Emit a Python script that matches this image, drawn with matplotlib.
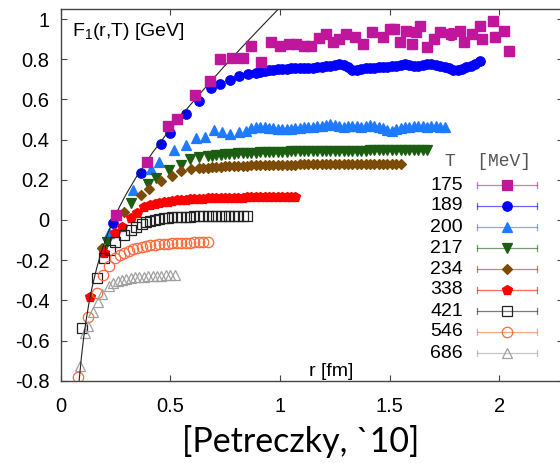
import matplotlib
matplotlib.use("Agg")
import matplotlib.pyplot as plt

plt.rcParams['font.family'] = ['Liberation Sans', 'DejaVu Sans']
plt.rcParams['mathtext.default'] = 'regular'

# ---------- data ----------
temps = ['175', '189', '200', '217', '234', '338', '421', '546', '686']

r_175 = [0.255, 0.392, 0.49, 0.533, 0.615, 0.68, 0.726, 0.78, 0.83, 0.87,
         0.915, 0.96, 1.0, 1.04, 1.075, 1.11, 1.14, 1.18, 1.21, 1.24,
         1.27, 1.30, 1.34, 1.38, 1.42, 1.47, 1.50, 1.52, 1.545, 1.575,
         1.60, 1.62, 1.64, 1.67, 1.70, 1.73, 1.78, 1.82, 1.84, 1.875,
         1.91, 1.92, 1.97, 1.98, 2.02, 2.045]
F_175 = [0.025, 0.29, 0.467, 0.503, 0.62, 0.69, 0.80, 0.805, 0.805, 0.865,
         0.785, 0.885, 0.865, 0.875, 0.875, 0.865, 0.865, 0.905, 0.925, 0.885,
         0.90, 0.925, 0.91, 0.875, 0.935, 0.91, 0.95, 0.95, 0.885, 0.94,
         0.875, 0.935, 0.965, 0.86, 0.90, 0.935, 0.925, 0.94, 0.885, 0.925,
         0.965, 0.90, 0.99, 0.91, 0.94, 0.84]
e_175 = [0.005, 0.005, 0.005, 0.005, 0.005, 0.005, 0.008, 0.008, 0.01, 0.025,
         0.015, 0.012, 0.015, 0.012, 0.012, 0.01, 0.015, 0.012, 0.02, 0.02,
         0.015, 0.02, 0.02, 0.015, 0.025, 0.02, 0.02, 0.02, 0.02, 0.015,
         0.02, 0.02, 0.02, 0.02, 0.025, 0.02, 0.03, 0.02, 0.02, 0.02,
         0.02, 0.02, 0.02, 0.025, 0.02, 0.025]

r_189 = [0.24, 0.367, 0.457, 0.498, 0.571, 0.632, 0.685, 0.729, 0.773, 0.814,
         0.855, 0.89,
         0.91, 0.93, 0.95, 0.97, 0.99, 1.01, 1.03, 1.05, 1.07, 1.09,
         1.11, 1.13, 1.15, 1.17, 1.19, 1.21, 1.23, 1.25, 1.27, 1.29,
         1.31, 1.33, 1.35, 1.37, 1.39, 1.41, 1.43, 1.45, 1.47, 1.49,
         1.51, 1.53, 1.55, 1.57, 1.59, 1.61, 1.63, 1.65, 1.67, 1.69,
         1.71, 1.73, 1.75, 1.77, 1.79, 1.81, 1.83, 1.85, 1.87, 1.89,
         1.91]
F_189 = [-0.015, 0.233, 0.378, 0.433, 0.525, 0.592, 0.658, 0.678, 0.695, 0.717,
         0.725, 0.73,
         0.735, 0.74, 0.745, 0.748, 0.75, 0.752, 0.753, 0.755, 0.755, 0.756,
         0.755, 0.757, 0.758, 0.76, 0.762, 0.765, 0.768, 0.772, 0.775, 0.77,
         0.76, 0.745, 0.748, 0.752, 0.755, 0.757, 0.758, 0.76, 0.76, 0.762,
         0.765, 0.768, 0.772, 0.775, 0.772, 0.768, 0.765, 0.77, 0.774, 0.776,
         0.772, 0.768, 0.762, 0.755, 0.748, 0.745, 0.75, 0.762, 0.768, 0.775,
         0.79]

r_200 = [0.22, 0.332, 0.412, 0.45, 0.518, 0.574, 0.616, 0.66, 0.698, 0.736,
         0.774, 0.812, 0.844,
         0.87, 0.89, 0.91, 0.93, 0.95, 0.97, 0.99, 1.01, 1.03, 1.05,
         1.07, 1.09, 1.11, 1.13, 1.15, 1.17, 1.19, 1.21, 1.23, 1.25,
         1.27, 1.29, 1.31, 1.33, 1.35, 1.37, 1.39, 1.41, 1.43, 1.45,
         1.47, 1.49, 1.51, 1.53, 1.55, 1.57, 1.59, 1.61, 1.63, 1.65,
         1.67, 1.69, 1.71, 1.73, 1.75]
F_200 = [-0.067, 0.15, 0.253, 0.29, 0.347, 0.375, 0.408, 0.413, 0.447, 0.438,
         0.43, 0.44, 0.445,
         0.46, 0.462, 0.465, 0.462, 0.46, 0.457, 0.455, 0.452, 0.452, 0.455,
         0.458, 0.46, 0.462, 0.465, 0.465, 0.468, 0.47, 0.475, 0.48, 0.475,
         0.47, 0.465, 0.468, 0.47, 0.468, 0.465, 0.47, 0.472, 0.468, 0.465,
         0.46, 0.45, 0.445, 0.452, 0.458, 0.462, 0.465, 0.468, 0.47, 0.468,
         0.465, 0.47, 0.468, 0.465, 0.465]

r_217 = [0.21, 0.32, 0.397, 0.435, 0.495, 0.548, 0.589, 0.63, 0.67,
         0.69, 0.71, 0.73, 0.75, 0.77, 0.79, 0.81, 0.83, 0.85, 0.87,
         0.89, 0.91, 0.93, 0.95, 0.97, 0.99, 1.01, 1.03, 1.05, 1.07,
         1.09, 1.11, 1.13, 1.15, 1.17, 1.19, 1.21, 1.23, 1.25, 1.27,
         1.29, 1.31, 1.33, 1.35, 1.37, 1.39, 1.41, 1.43, 1.45, 1.47,
         1.49, 1.51, 1.53, 1.55, 1.57, 1.59, 1.61, 1.63, 1.65, 1.67]
F_217 = [-0.11, 0.085, 0.178, 0.208, 0.25, 0.275, 0.303, 0.312, 0.317,
         0.320, 0.322, 0.324, 0.326, 0.328, 0.330, 0.331, 0.332, 0.333, 0.334,
         0.335, 0.336, 0.337, 0.338, 0.339, 0.339, 0.340, 0.340, 0.341, 0.341,
         0.342, 0.342, 0.342, 0.343, 0.343, 0.343, 0.344, 0.344, 0.344, 0.344,
         0.345, 0.345, 0.345, 0.345, 0.345, 0.345, 0.346, 0.346, 0.346, 0.346,
         0.346, 0.346, 0.346, 0.346, 0.347, 0.347, 0.347, 0.347, 0.347, 0.347]

r_234 = [0.19, 0.29, 0.367, 0.403, 0.457, 0.509, 0.551, 0.594,
         0.63, 0.65, 0.67, 0.69, 0.71, 0.73, 0.75, 0.77, 0.79, 0.81,
         0.83, 0.85, 0.87, 0.89, 0.91, 0.93, 0.95, 0.97, 0.99, 1.01,
         1.03, 1.05, 1.07, 1.09, 1.11, 1.13, 1.15, 1.17, 1.19, 1.21,
         1.23, 1.25, 1.27, 1.29, 1.31, 1.33, 1.35, 1.37, 1.39, 1.41,
         1.43, 1.45, 1.47, 1.49, 1.51, 1.53, 1.55]
F_234 = [-0.14, 0.04, 0.125, 0.153, 0.192, 0.217, 0.242, 0.253,
         0.257, 0.259, 0.261, 0.263, 0.264, 0.266, 0.267, 0.268, 0.269, 0.270,
         0.271, 0.271, 0.272, 0.273, 0.273, 0.274, 0.274, 0.275, 0.275, 0.275,
         0.276, 0.276, 0.276, 0.277, 0.277, 0.277, 0.277, 0.278, 0.278, 0.278,
         0.278, 0.278, 0.279, 0.279, 0.279, 0.279, 0.279, 0.279, 0.280, 0.280,
         0.280, 0.280, 0.280, 0.280, 0.280, 0.280, 0.280]

r_338 = [0.135, 0.20, 0.25, 0.28, 0.32, 0.35, 0.38, 0.41, 0.43, 0.45,
         0.47, 0.49, 0.51, 0.53, 0.55, 0.57, 0.59, 0.61, 0.63, 0.65,
         0.67, 0.69, 0.71, 0.73, 0.75, 0.77, 0.79, 0.81, 0.83, 0.85,
         0.87, 0.89, 0.91, 0.93, 0.95, 0.97, 0.99, 1.01, 1.03, 1.05,
         1.07]
F_338 = [-0.385, -0.165, -0.065, -0.035, 0.01, 0.035, 0.065, 0.072, 0.078, 0.083,
         0.087, 0.091, 0.094, 0.097, 0.099, 0.101, 0.103, 0.104, 0.105, 0.106,
         0.107, 0.107, 0.108, 0.109, 0.109, 0.110, 0.110, 0.111, 0.111, 0.112,
         0.112, 0.112, 0.113, 0.113, 0.113, 0.114, 0.114, 0.114, 0.115, 0.115,
         0.115]

r_421 = [0.10, 0.165, 0.20, 0.225, 0.25, 0.29, 0.32, 0.345, 0.37, 0.39,
         0.41, 0.43, 0.45, 0.47, 0.49, 0.51, 0.53, 0.55, 0.57, 0.59,
         0.61, 0.63, 0.65, 0.67, 0.69, 0.71, 0.73, 0.75, 0.77, 0.79,
         0.81, 0.83, 0.85]
F_421 = [-0.54, -0.29, -0.19, -0.15, -0.11, -0.075, -0.05, -0.035, -0.02, -0.01,
         -0.003, 0.002, 0.006, 0.009, 0.011, 0.013, 0.014, 0.015, 0.016, 0.017,
         0.018, 0.018, 0.019, 0.019, 0.020, 0.020, 0.020, 0.021, 0.021, 0.021,
         0.021, 0.022, 0.022]

r_546 = [0.078, 0.125, 0.165, 0.195, 0.22, 0.25, 0.27, 0.29, 0.31, 0.33,
         0.35, 0.37, 0.39, 0.41, 0.43, 0.45, 0.47, 0.49, 0.51, 0.53,
         0.55, 0.57, 0.59, 0.61, 0.63, 0.65, 0.67]
F_546 = [-0.78, -0.485, -0.365, -0.275, -0.23, -0.19, -0.175, -0.163, -0.153, -0.145,
         -0.139, -0.134, -0.130, -0.127, -0.124, -0.122, -0.120, -0.118, -0.117, -0.116,
         -0.115, -0.114, -0.113, -0.112, -0.112, -0.111, -0.111]

r_686 = [0.09, 0.112, 0.125, 0.15, 0.17, 0.19, 0.22, 0.24, 0.26, 0.28,
         0.30, 0.32, 0.34, 0.36, 0.38, 0.40, 0.42, 0.44, 0.46, 0.48,
         0.50, 0.52]
F_686 = [-0.725, -0.565, -0.53, -0.46, -0.41, -0.37, -0.33, -0.315, -0.305, -0.298,
         -0.293, -0.289, -0.286, -0.284, -0.282, -0.280, -0.279, -0.278, -0.277, -0.276,
         -0.276, -0.275]

# T = 0 potential line
r_T0 = [0.085, 0.095, 0.105, 0.115, 0.128, 0.145, 0.165, 0.19, 0.215, 0.241,
        0.27, 0.30, 0.35, 0.42, 0.50, 0.58, 0.66, 0.74, 0.82, 0.90, 0.993, 1.02]
F_T0 = [-0.80, -0.686, -0.591, -0.512, -0.424, -0.330, -0.239, -0.146, -0.069, 0.0,
        0.068, 0.130, 0.222, 0.336, 0.452, 0.558, 0.659, 0.757, 0.852, 0.944, 1.05, 1.081]

series = [
    (r_175, F_175, e_175, 's', '#C0169C', True, 6.5),
    (r_189, F_189, None, 'o', '#0000FF', True, 6.8),
    (r_200, F_200, None, '^', '#1E7BFF', True, 6.8),
    (r_217, F_217, None, 'v', '#1B5E12', True, 6.8),
    (r_234, F_234, None, 'D', '#7B4B07', True, 5.2),
    (r_338, F_338, None, 'p', '#FF0000', True, 7.2),
    (r_421, F_421, None, 's', '#222222', False, 7.0),
    (r_546, F_546, None, 'o', '#FF6A3C', False, 7.5),
    (r_686, F_686, None, '^', '#A0A0A0', False, 7.5),
]

# ---------- figure ----------
W, H = 560, 463
fig = plt.figure(figsize=(W / 100, H / 100), dpi=100)
ax = fig.add_axes([60.5 / W, (H - 380.7) / H, (563 - 60.5) / W, (380.7 - 9) / H])

for r, F, e, m, c, filled, ms in series:
    fc = c if filled else 'none'
    if e is not None:
        ax.errorbar(r, F, yerr=e, fmt=m, color=c, mfc=fc, mec=c, ms=ms,
                    elinewidth=0.8, capsize=2.5, capthick=0.8, ecolor=c)
    else:
        ax.plot(r, F, m, color=c, mfc=fc, mec=c, ms=ms, mew=0.9, ls='none')

ax.plot(r_T0, F_T0, color='#222222', lw=0.8)

ax.set_xlim(0, 2.29)
ax.set_ylim(-0.8, 1.05)
ax.set_xticks([0, 0.5, 1, 1.5, 2])
ax.set_xticklabels(['0', '0.5', '1', '1.5', '2'])
ax.set_yticks([-0.8, -0.6, -0.4, -0.2, 0, 0.2, 0.4, 0.6, 0.8, 1])
ax.set_yticklabels(['-0.8', '-0.6', '-0.4', '-0.2', '0', '0.2', '0.4', '0.6', '0.8', '1'])
ax.tick_params(direction='in', length=4, width=0.8, color='#444444',
               top=True, right=True, labelsize=14.5)
ax.tick_params(axis='x', pad=12)
ax.tick_params(axis='y', pad=8)
for s in ax.spines.values():
    s.set_color('#444444')
    s.set_linewidth(1.0)

def fx(px):
    return px / W

def fy(py):
    return 1 - py / H

fig.text(fx(72), fy(31), 'F$_1$(r,T) [GeV]', fontsize=14, va='center', ha='left')
fig.text(fx(331), fy(371), 'r [fm]', fontsize=14, va='center', ha='center')

# legend (gnuplot style, drawn by hand)
fig.text(fx(445), fy(162), 'T  [MeV]', fontsize=13, family='Liberation Mono',
         color='#555555', va='center', ha='left')
row_y = [185, 206, 227, 248, 269, 290, 311, 332, 353]
for i, (lab, (r, F, e, m, c, filled, ms)) in enumerate(zip(temps, series)):
    y = fy(row_y[i])
    fig.text(fx(463), y, lab, fontsize=14, va='center', ha='right')
    ax.plot([fx(477), fx(537)], [y, y], color=c, lw=0.9, alpha=0.6,
            transform=fig.transFigure, clip_on=False)
    for xe in (477, 537):
        ax.plot([fx(xe), fx(xe)], [y - 3 / H, y + 3 / H], color=c, lw=0.9,
                alpha=0.6, transform=fig.transFigure, clip_on=False)
    ax.plot([fx(507)], [y], m, color=c, mfc=(c if filled else 'none'), mec=c,
            ms=ms, mew=0.9, transform=fig.transFigure, clip_on=False)

fig.text(fx(301), fy(452), '[Petreczky, `10]', fontsize=24.5, family='Lato',
         va='baseline', ha='center')

fig.savefig('out.png', dpi=100)
